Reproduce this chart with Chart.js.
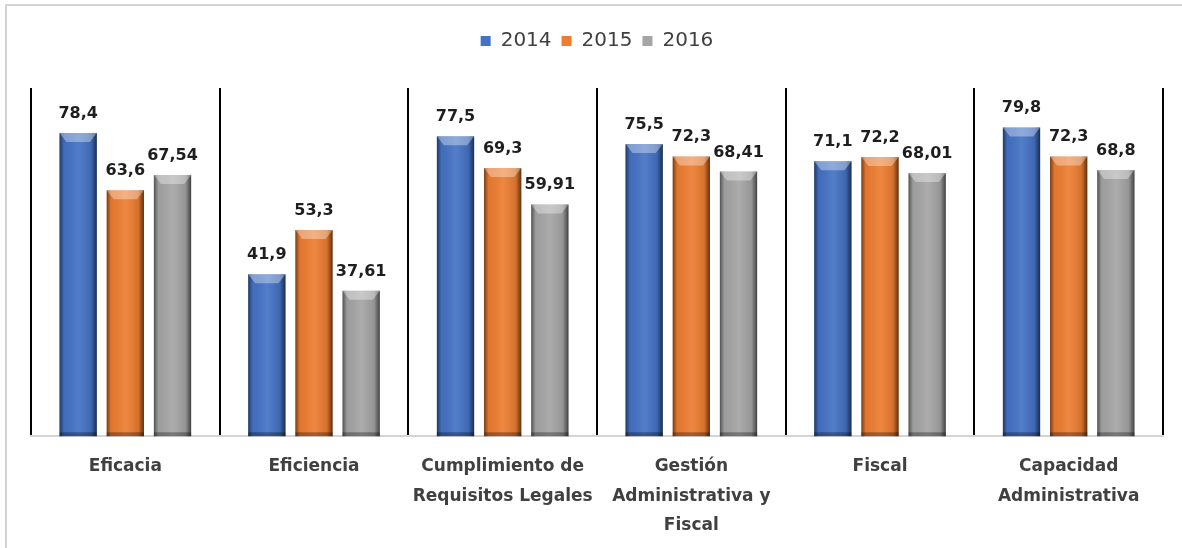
<!DOCTYPE html>
<html>
<head>
<meta charset="utf-8">
<script src="https://cdn.jsdelivr.net/npm/chart.js@4/dist/chart.umd.min.js"></script>
<style>
  html, body { margin: 0; padding: 0; background: #fff; overflow: hidden; }
  #frame { position: absolute; left: 5px; top: 4px; width: 1300px; height: 700px;
           border-top: 2px solid #d4d4d4; border-left: 2px solid #d4d4d4; }
  #wrap { position: absolute; left: 0; top: 0; width: 1182px; height: 562px; }
</style>
</head>
<body>
<div id="frame"></div>
<div id="wrap"><canvas id="barChart"></canvas></div>
<script>
// --- data ---
const categories = [
  'Eficacia',
  'Eficiencia',
  ['Cumplimiento de', 'Requisitos Legales'],
  ['Gestión', 'Administrativa y', 'Fiscal'],
  'Fiscal',
  ['Capacidad', 'Administrativa']
];
const years = ['2014', '2015', '2016'];
const values2014 = [78.4, 41.9, 77.5, 75.5, 71.1, 79.8];
const values2015 = [63.6, 53.3, 69.3, 72.3, 72.2, 72.3];
const values2016 = [67.54, 37.61, 59.91, 68.41, 68.01, 68.8];
const colors = ['#4472C4', '#ED7D31', '#A5A5A5'];

// pushes the plot area down below the legend
const legendSpacer = {
  id: 'legendSpacer',
  afterInit(chart) {
    const fit = chart.legend.fit;
    chart.legend.fit = function () { fit.call(this); this.height += 27; };
  }
};

// bevelled look + value labels above each bar
const bevelAndLabels = {
  id: 'bevelAndLabels',
  afterDatasetsDraw(chart) {
    const ctx = chart.ctx;
    chart.data.datasets.forEach((ds, di) => {
      const meta = chart.getDatasetMeta(di);
      meta.data.forEach((bar, i) => {
        const left = bar.x - bar.width / 2, right = bar.x + bar.width / 2;
        const top = bar.y, bottom = bar.base, w = bar.width;
        ctx.save();
        // side shading
        const g = ctx.createLinearGradient(left, 0, right, 0);
        g.addColorStop(0, 'rgba(0,0,0,0.5)');
        g.addColorStop(0.12, 'rgba(0,0,0,0.05)');
        g.addColorStop(0.5, 'rgba(255,255,255,0.08)');
        g.addColorStop(0.85, 'rgba(0,0,0,0.1)');
        g.addColorStop(1, 'rgba(0,0,0,0.6)');
        ctx.fillStyle = g;
        ctx.fillRect(left, top, w, bottom - top);
        // top chamfer
        const bh = 9, bw = 7;
        ctx.beginPath();
        ctx.moveTo(left, top);
        ctx.lineTo(right, top);
        ctx.lineTo(right - bw, top + bh);
        ctx.lineTo(left + bw, top + bh);
        ctx.closePath();
        ctx.fillStyle = 'rgba(255,255,255,0.35)';
        ctx.fill();
        // bottom edge
        ctx.fillStyle = 'rgba(0,0,0,0.3)';
        ctx.fillRect(left, bottom - 4, w, 4);
        // value label
        ctx.fillStyle = '#1e1e1e';
        ctx.font = 'bold 16px "DejaVu Sans"';
        ctx.textAlign = 'center';
        ctx.textBaseline = 'alphabetic';
        const txt = String(ds.data[i]).replace('.', ',');
        ctx.fillText(txt, bar.x, top - 15);
        ctx.restore();
      });
    });
  }
};

const ctx = document.getElementById('barChart').getContext('2d');
new Chart(ctx, {
  type: 'bar',
  data: {
    labels: categories,
    datasets: [
      { label: years[0], data: values2014, backgroundColor: colors[0] },
      { label: years[1], data: values2015, backgroundColor: colors[1] },
      { label: years[2], data: values2016, backgroundColor: colors[2] }
    ]
  },
  options: {
    responsive: true,
    maintainAspectRatio: false,
    animation: false,
    categoryPercentage: 0.75,
    barPercentage: 0.79,
    layout: { padding: { top: 21, left: 31, right: 19, bottom: 6 } },
    plugins: {
      tooltip: { enabled: false },
      legend: {
        position: 'top',
        labels: {
          boxWidth: 10, boxHeight: 10, padding: 10,
          color: '#404040',
          font: { family: 'DejaVu Sans', size: 20 }
        }
      }
    },
    scales: {
      x: {
        grid: { display: true, offset: true, color: '#000', lineWidth: 2, drawTicks: false },
        border: { display: true, color: '#d4d4d4', width: 2 },
        ticks: {
          color: '#404040', padding: 16, maxRotation: 0, autoSkip: false,
          font: { family: 'DejaVu Sans', size: 17, weight: 'bold', lineHeight: 1.72 }
        }
      },
      y: { display: false, min: 0, max: 90 }
    }
  },
  plugins: [legendSpacer, bevelAndLabels]
});
</script>
</body>
</html>
